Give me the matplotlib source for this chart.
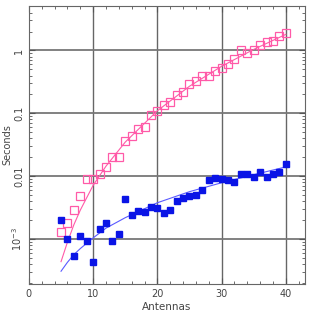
import matplotlib
matplotlib.use("Agg")
import matplotlib.pyplot as plt
from matplotlib.ticker import FixedLocator, FixedFormatter, MultipleLocator, LogLocator, NullFormatter

# ----------------------------------------------------
# Data
# ----------------------------------------------------
antennas = list(range(5, 41))

pink_times = [0.00128, 0.00178, 0.0029, 0.0048, 0.0090, 0.0090, 0.011, 0.014,
              0.0199, 0.0199, 0.036, 0.044, 0.0565, 0.0615, 0.094, 0.108,
              0.136, 0.151, 0.193, 0.221, 0.288, 0.327, 0.386, 0.40, 0.464,
              0.531, 0.608, 0.738, 1.0, 0.896, 1.0, 1.23, 1.34, 1.39, 1.71, 1.89]

blue_times = [0.0020, 0.0010, 0.00054, 0.00112, 0.00095, 0.00043, 0.00143,
              0.00178, 0.00095, 0.0012, 0.0044, 0.0024, 0.00285, 0.0027,
              0.0033, 0.0031, 0.00265, 0.0029, 0.0041, 0.0045, 0.0049, 0.0051,
              0.0060, 0.0086, 0.0093, 0.0090, 0.0086, 0.0082, 0.011, 0.011,
              0.0096, 0.0119, 0.0096, 0.011, 0.0119, 0.0155]

fit_x = [5, 6, 7, 8, 10, 12, 15, 20, 25, 30, 35, 40]
pink_fit = [0.00044, 0.0009, 0.0017, 0.0029, 0.0072, 0.0145, 0.035, 0.11,
            0.27, 0.56, 1.04, 1.8]
blue_fit = [0.00031, 0.00043, 0.00057, 0.00071, 0.00105, 0.0015, 0.0022,
            0.0038, 0.0057, 0.0079, 0.0106, 0.0141]

y_ticks = [1e-3, 1e-2, 1e-1, 1]
y_labels = ["10$^{-3}$", "0.01", "0.1", "1"]

pink = "#ff5aa8"
blue = "#0a14e6"
text_col = "#444444"

# ----------------------------------------------------
# Plot
# ----------------------------------------------------
fig = plt.figure(figsize=(3.11, 3.13), dpi=100)
ax = fig.add_axes([0.093, 0.093, 0.888, 0.888])

ax.set_yscale("log")
ax.set_xlim(0, 43)
ax.set_ylim(1.95e-4, 5.1)

for v in [10, 20, 30, 40]:
    ax.axvline(v, color="#666666", lw=1.0, zorder=1)
for v in y_ticks:
    ax.axhline(v, color="#777777", lw=1.3, zorder=1)

ax.plot(fit_x, pink_fit, color=pink, lw=0.8, zorder=2)
ax.plot(fit_x, blue_fit, color="#5a5aff", lw=0.8, zorder=2)

ax.plot(antennas, pink_times, "s", mfc="none", mec=pink, mew=0.9, ms=5.5, zorder=3)
ax.plot(antennas, blue_times, "s", color=blue, ms=5, zorder=3)

ax.xaxis.set_major_locator(FixedLocator([0, 10, 20, 30, 40]))
ax.xaxis.set_minor_locator(MultipleLocator(2))
ax.yaxis.set_major_locator(FixedLocator(y_ticks))
ax.yaxis.set_major_formatter(FixedFormatter(y_labels))
ax.yaxis.set_minor_locator(LogLocator(base=10, subs=range(2, 10)))
ax.yaxis.set_minor_formatter(NullFormatter())

ax.tick_params(which="both", direction="in", top=True, right=True,
               colors="#555555", labelcolor=text_col, labelsize=7)
ax.tick_params(which="major", length=4)
ax.tick_params(which="minor", length=2.5)
for lab in ax.get_yticklabels():
    lab.set_rotation(90)
    lab.set_va("center")

for s in ax.spines.values():
    s.set_color("#666666")
    s.set_linewidth(0.8)

ax.set_xlabel("Antennas", fontsize=7.5, color=text_col, labelpad=2)
ax.set_ylabel("Seconds", fontsize=7, color=text_col, va="center")
ax.yaxis.set_label_coords(-0.077, 0.5)

fig.savefig("out.png", dpi=100)
